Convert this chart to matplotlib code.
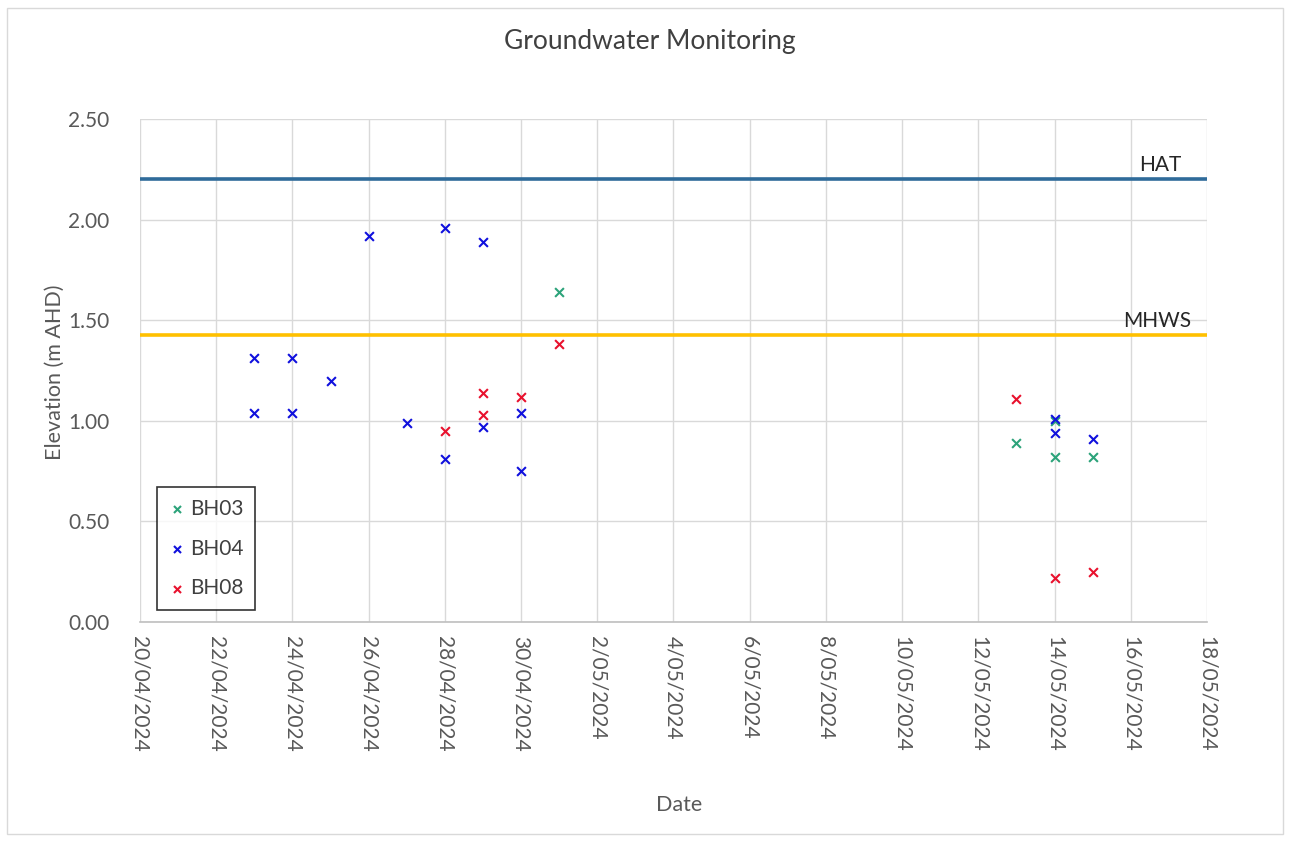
import matplotlib
matplotlib.use("Agg")
import matplotlib.pyplot as plt
import matplotlib.transforms as mtransforms
import pandas as pd
from matplotlib.patches import Rectangle

plt.rcParams['font.family'] = ['Lato', 'DejaVu Sans']

# ---- data ----
bh03_dates = ["2024-05-01", "2024-05-13", "2024-05-14", "2024-05-14", "2024-05-15"]
bh03_vals = [1.64, 0.89, 0.82, 1.00, 0.82]

bh04_dates = ["2024-04-23", "2024-04-23", "2024-04-24", "2024-04-24", "2024-04-25",
              "2024-04-26", "2024-04-27", "2024-04-28", "2024-04-28", "2024-04-29",
              "2024-04-29", "2024-04-30", "2024-04-30", "2024-05-14", "2024-05-14",
              "2024-05-15"]
bh04_vals = [1.31, 1.04, 1.31, 1.04, 1.20,
             1.92, 0.99, 1.96, 0.81, 1.89,
             0.97, 1.04, 0.75, 1.01, 0.94,
             0.91]

bh08_dates = ["2024-04-28", "2024-04-29", "2024-04-29", "2024-04-30", "2024-05-01",
              "2024-05-13", "2024-05-14", "2024-05-15"]
bh08_vals = [0.95, 1.14, 1.03, 1.12, 1.38, 1.11, 0.22, 0.25]

hat_level = 2.20
mhws_level = 1.425
x_start, x_end = "2024-04-20", "2024-05-18"
y_ticks = [0.0, 0.5, 1.0, 1.5, 2.0, 2.5]

# ---- figure ----
fig = plt.figure(figsize=(12.92, 8.44), dpi=100)
fig.patches.append(Rectangle((7 / 1292, 1 - 834 / 844), 1276 / 1292, 826 / 844,
                             transform=fig.transFigure, fill=False,
                             edgecolor='#d9d9d9', linewidth=1.0))
ax = fig.add_axes([140 / 1292, 1 - 622 / 844, 1067 / 1292, 503 / 844])

grid_c = '#d9d9d9'
ax.set_xlim(pd.Timestamp(x_start), pd.Timestamp(x_end))
ax.set_ylim(0, 2.5)
ax.set_yticks(y_ticks)
ax.set_yticklabels([f"{v:.2f}" for v in y_ticks], fontsize=15, color='#595959')
ticks = pd.date_range(x_start, x_end, freq='2D')
ax.set_xticks(ticks)
ax.set_xticklabels([f"{d.day}/{d.month:02d}/{d.year}" for d in ticks],
                   rotation=-90, fontsize=15, color='#595959', va='top', ha='center')
ax.tick_params(axis='x', length=0, pad=10)
ax.tick_params(axis='y', length=0, pad=22)
ax.grid(True, color=grid_c, linewidth=1.0)
ax.set_axisbelow(True)
for s in ['top', 'right', 'left']:
    ax.spines[s].set_visible(False)
ax.spines['bottom'].set_color('#bfbfbf')
ax.spines['bottom'].set_linewidth(1.2)

ax.axhline(hat_level, color='#2f6b9a', linewidth=2.6, zorder=2)
ax.axhline(mhws_level, color='#ffc000', linewidth=2.6, zorder=2)

blend = mtransforms.blended_transform_factory(ax.transAxes, ax.transData)
ax.text(0.976, hat_level + 0.02, "HAT", transform=blend, ha='right', va='bottom',
        fontsize=15, color='#262626')
ax.text(0.985, mhws_level + 0.02, "MHWS", transform=blend, ha='right', va='bottom',
        fontsize=15, color='#262626')

ax.scatter(pd.to_datetime(bh03_dates), bh03_vals, marker='x', color='#2ca37a',
           s=40, linewidths=1.5, label='BH03', zorder=3)
ax.scatter(pd.to_datetime(bh04_dates), bh04_vals, marker='x', color='#1010dd',
           s=40, linewidths=1.5, label='BH04', zorder=4)
ax.scatter(pd.to_datetime(bh08_dates), bh08_vals, marker='x', color='#e8112d',
           s=40, linewidths=1.5, label='BH08', zorder=3)

leg = ax.legend(loc='lower left', bbox_to_anchor=(0.016, 0.024), borderaxespad=0,
                frameon=True, fancybox=False, fontsize=15, handletextpad=0.25,
                labelspacing=0.95, borderpad=0.55, handlelength=0.8, markerscale=0.8)
leg.get_frame().set_edgecolor('black')
leg.get_frame().set_linewidth(1.2)
for t in leg.get_texts():
    t.set_color('#404040')

fig.text(650 / 1292, 1 - 41 / 844, "Groundwater Monitoring", ha='center', va='center',
         fontsize=19, color='#404040')
fig.text(679 / 1292, 1 - 805 / 844, "Date", ha='center', va='center',
         fontsize=15.5, color='#595959')
fig.text(55 / 1292, 1 - 372 / 844, "Elevation (m AHD)", ha='center', va='center',
         rotation=90, fontsize=15.5, color='#595959')

fig.savefig("out.png", dpi=100)
